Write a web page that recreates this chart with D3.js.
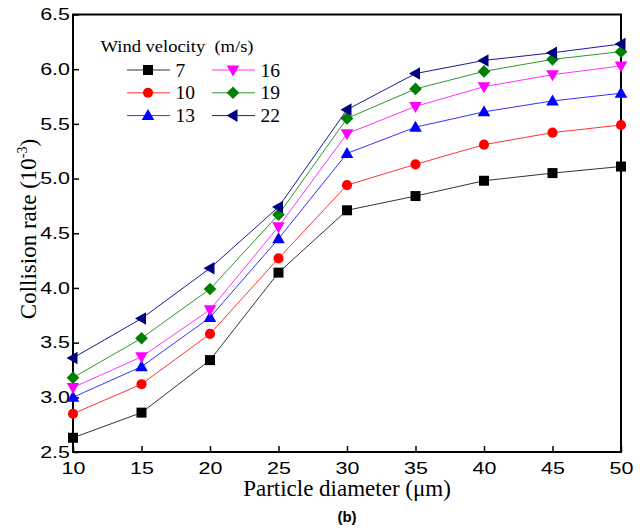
<!DOCTYPE html>
<html lang="en">
<head>
<meta charset="UTF-8">
<title>Collision rate vs particle diameter</title>
<script src="https://cdnjs.cloudflare.com/ajax/libs/d3/7.8.5/d3.min.js"></script>
<style>
  body { margin: 0; background: #fff; }
  svg { display: block; }
</style>
</head>
<body>
<svg width="640" height="532"></svg>
<script>
// particle diameters (um)
const diameters = [10, 15, 20, 25, 30, 35, 40, 45, 50];

// collision rate (10^-3) per wind velocity
const v7  = [2.63, 2.86, 3.34, 4.14, 4.71, 4.84, 4.98, 5.05, 5.11];
const v10 = [2.85, 3.12, 3.58, 4.27, 4.94, 5.13, 5.31, 5.42, 5.49];
const v13 = [3.00, 3.28, 3.73, 4.45, 5.23, 5.47, 5.61, 5.71, 5.78];
const v16 = [3.09, 3.37, 3.80, 4.56, 5.41, 5.66, 5.84, 5.95, 6.03];
const v19 = [3.18, 3.54, 3.99, 4.67, 5.55, 5.82, 5.98, 6.09, 6.16];
const v22 = [3.36, 3.72, 4.18, 4.74, 5.63, 5.96, 6.08, 6.15, 6.23];

const xTicks = [10, 15, 20, 25, 30, 35, 40, 45, 50];
const yTicks = [2.5, 3.0, 3.5, 4.0, 4.5, 5.0, 5.5, 6.0, 6.5];

const series = [
  { name: "7",  values: v7,  color: "#000000", line: "#333333", shape: "square" },
  { name: "10", values: v10, color: "#ff0000", line: "#ff3333", shape: "circle" },
  { name: "13", values: v13, color: "#0000ff", line: "#3333ff", shape: "up" },
  { name: "16", values: v16, color: "#ff00ff", line: "#ff33ff", shape: "down" },
  { name: "19", values: v19, color: "#008000", line: "#2a9a2a", shape: "diamond" },
  { name: "22", values: v22, color: "#000080", line: "#1a1a99", shape: "left" }
];

const svg = d3.select("svg");
const plotL = 73, plotR = 621, plotT = 14.5, plotB = 452;

const x = d3.scaleLinear().domain([10, 50]).range([plotL, plotR]);
const y = d3.scaleLinear().domain([2.5, 6.5]).range([plotB, plotT]);

// the original text is drawn a bit wider than the font's own metrics
function widen(sel, k) {
  sel.each(function () {
    const w = this.getComputedTextLength();
    d3.select(this).attr("textLength", w * k).attr("lengthAdjust", "spacingAndGlyphs");
  });
}

function markerPath(shape) {
  switch (shape) {
    case "square": return "M-5,-5H5V5H-5Z";
    case "circle": return d3.symbol(d3.symbolCircle, 80)();
    case "up": return "M0,-6.5L6.3,4.5L-6.3,4.5Z";
    case "down": return "M0,6.5L6.3,-4.5L-6.3,-4.5Z";
    case "diamond": return "M0,-6.3L6.3,0L0,6.3L-6.3,0Z";
    case "left": return "M-6.5,0L4.5,-6.3L4.5,6.3Z";
  }
}

// axes
const xAxis = d3.axisBottom(x).tickValues(xTicks).tickSizeInner(-6).tickSizeOuter(0).tickPadding(10);
const yAxis = d3.axisLeft(y).tickValues(yTicks).tickSizeInner(-6).tickSizeOuter(0).tickPadding(3)
  .tickFormat(d3.format(".1f"));

const gx = svg.append("g").attr("transform", `translate(0,${plotB})`).call(xAxis);
const gy = svg.append("g").attr("transform", `translate(${plotL},0)`).call(yAxis);
[gx, gy].forEach(g => {
  g.select(".domain").remove();
  g.selectAll(".tick line").attr("stroke", "#000").attr("stroke-width", 1.5);
  g.selectAll(".tick text")
    .attr("font-family", "Liberation Sans, Arial, sans-serif")
    .attr("font-size", 16.5)
    .attr("fill", "#000")
    .call(widen, 1.3);
});

// frame
svg.append("rect")
  .attr("x", plotL).attr("y", plotT)
  .attr("width", plotR - plotL).attr("height", plotB - plotT)
  .attr("fill", "none").attr("stroke", "#000").attr("stroke-width", 2);

// lines and markers
const line = d3.line().x((d, i) => x(diameters[i])).y(d => y(d));
series.forEach(s => {
  svg.append("path")
    .attr("d", line(s.values))
    .attr("fill", "none")
    .attr("stroke", s.line)
    .attr("stroke-width", 1);
  svg.append("g").selectAll("path")
    .data(s.values)
    .join("path")
    .attr("transform", (d, i) => `translate(${x(diameters[i])},${y(d)})`)
    .attr("d", markerPath(s.shape))
    .attr("fill", s.color);
});

// legend
const legend = svg.append("g").attr("font-family", "Liberation Serif, Times New Roman, serif");
legend.append("text")
  .attr("x", 100.5).attr("y", 51.5)
  .attr("font-size", 16)
  .style("white-space", "pre")
  .attr("textLength", 153)
  .attr("lengthAdjust", "spacingAndGlyphs")
  .text("Wind velocity  (m/s)");
series.forEach((s, i) => {
  const col = Math.floor(i / 3), row = i % 3;
  const lx = 127 + col * 85, ly = 70 + row * 22.8;
  legend.append("line")
    .attr("x1", lx).attr("x2", lx + 43).attr("y1", ly).attr("y2", ly)
    .attr("stroke", s.line).attr("stroke-width", 1);
  legend.append("path")
    .attr("transform", `translate(${lx + 21},${ly})`)
    .attr("d", markerPath(s.shape))
    .attr("fill", s.color);
  legend.append("text")
    .attr("x", lx + 48.5).attr("y", ly + 6.5)
    .attr("font-size", 19.5)
    .text(s.name);
});

// axis titles
svg.append("text")
  .attr("x", (plotL + plotR) / 2).attr("y", 496)
  .attr("text-anchor", "middle")
  .attr("font-family", "Liberation Serif, Times New Roman, serif")
  .attr("font-size", 23)
  .text("Particle diameter (\u03bcm)");

const yt = svg.append("text")
  .attr("transform", `translate(36,229) rotate(-90)`)
  .attr("text-anchor", "middle")
  .attr("font-family", "Liberation Serif, Times New Roman, serif")
  .attr("font-size", 23);
yt.append("tspan").text("Collision rate (10");
yt.append("tspan").attr("dy", -9).attr("font-size", 14).text("-3");
yt.append("tspan").attr("dy", 9).text(")");

svg.append("text")
  .attr("x", 347).attr("y", 522)
  .attr("text-anchor", "middle")
  .attr("font-family", "Liberation Sans, Arial, sans-serif")
  .attr("font-weight", "bold")
  .attr("font-size", 15)
  .text("(b)");
</script>
</body>
</html>
